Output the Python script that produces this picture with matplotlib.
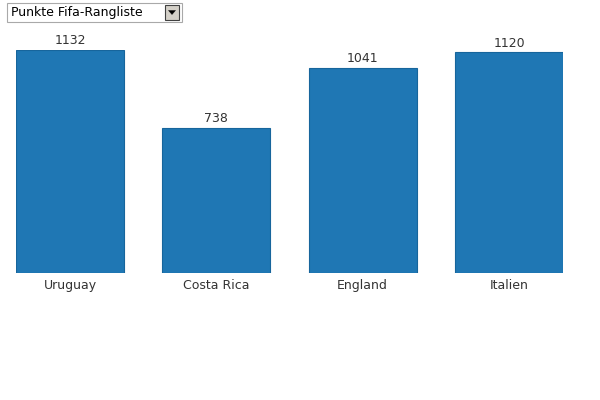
import matplotlib
matplotlib.use("Agg")
import matplotlib.pyplot as plt
from matplotlib.patches import Rectangle, Polygon

plt.rcParams["font.family"] = ["DejaVu Sans"]

categories = ["Uruguay", "Costa Rica", "England", "Italien"]
values = [1132, 738, 1041, 1120]
dropdown_label = "Punkte Fifa-Rangliste"

W, H = 600, 400
fig = plt.figure(figsize=(W / 100, H / 100), dpi=100)
fig.patch.set_facecolor("white")

def fx(px):
    return px / W

def fy(py):
    return 1 - py / H

ax = fig.add_axes([fx(16), fy(273), 547 / W, 223 / H])
x = list(range(len(categories)))
bars = ax.bar(x, values, width=0.738, color="#1f77b4", edgecolor="#17659c", linewidth=0.8)
ax.set_xlim(-0.369, len(categories) - 1 + 0.369)
ax.set_ylim(0, max(values))
for s in ax.spines.values():
    s.set_visible(False)
ax.set_yticks([])
ax.set_xticks(x)
ax.set_xticklabels(categories, fontsize=9, color="#333333")
ax.tick_params(axis="x", length=0, pad=4.5)
for xi, v in zip(x, values):
    ax.annotate(str(v), (xi, v), xytext=(0, 1.8), textcoords="offset points",
                ha="center", va="bottom", fontsize=9, color="#333333", clip_on=False)

# dropdown widget
fig.patches.append(Rectangle((fx(7), fy(22)), 175 / W, 19 / H, transform=fig.transFigure,
                             facecolor="white", edgecolor="#a9a9a9", linewidth=0.8))
fig.text(fx(11), fy(12.5), dropdown_label, fontsize=9, color="black", va="center", ha="left")
fig.patches.append(Rectangle((fx(165), fy(20)), 14 / W, 15 / H, transform=fig.transFigure,
                             facecolor="#d4d0c8", edgecolor="#404040", linewidth=0.8))
fig.patches.append(Polygon([(fx(168.5), fy(10.5)), (fx(175.5), fy(10.5)), (fx(172), fy(14.5))],
                           closed=True, transform=fig.transFigure, facecolor="black", edgecolor="black", linewidth=0.3))

fig.savefig("out.png", dpi=100)
